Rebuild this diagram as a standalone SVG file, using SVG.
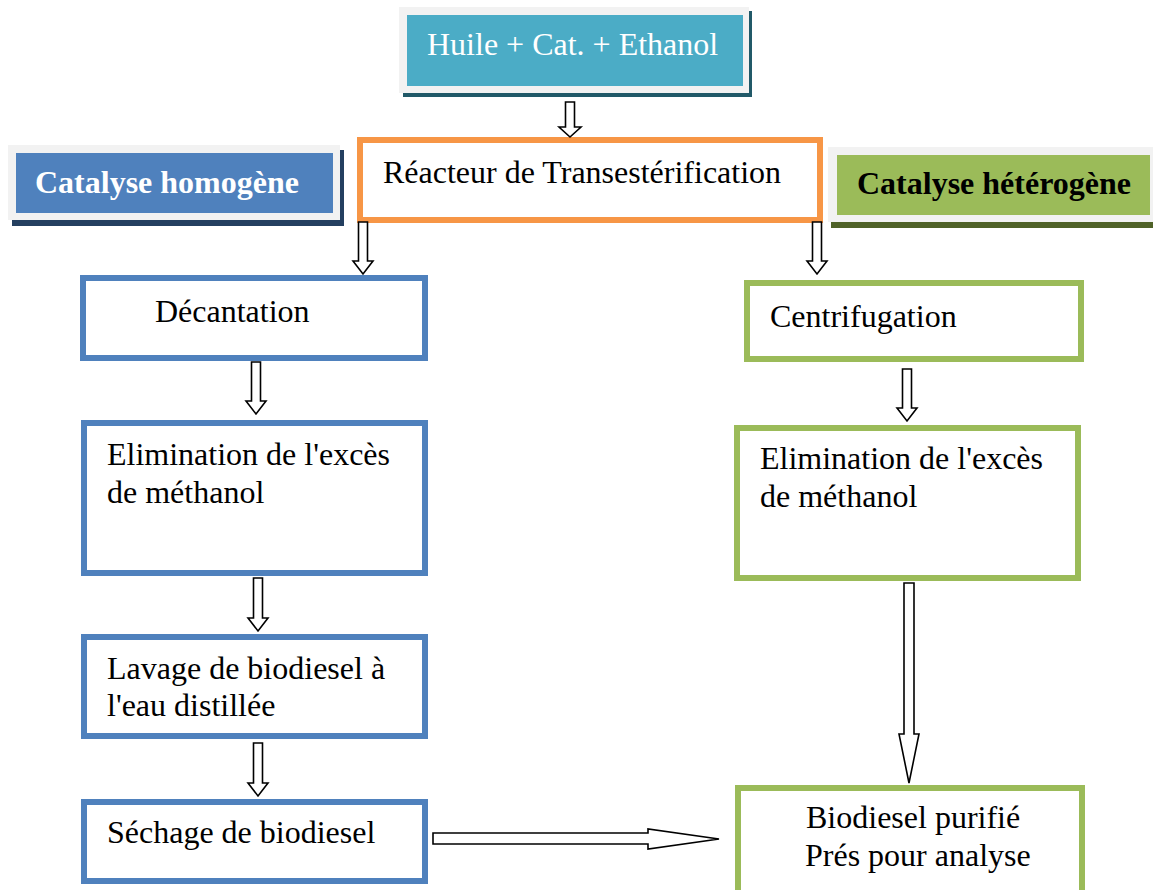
<svg xmlns="http://www.w3.org/2000/svg" width="1153" height="890" viewBox="0 0 1153 890">
<style>
text{font-family:"Liberation Serif","Times New Roman",serif;font-size:32px;fill:#000}
.b{font-weight:bold}
.w{fill:#fff}
.frame{fill:#F2F2F2}
.nb{fill:#fff;stroke:#4F81BD;stroke-width:6}
.ng{fill:#fff;stroke:#9BBB59;stroke-width:6}
.no{fill:#fff;stroke:#F79646;stroke-width:6}
.ar{fill:#fff;stroke:#000;stroke-width:1.6;stroke-linejoin:miter}
</style>
<rect width="1153" height="890" fill="#fff"/>
<g id="input">
<rect x="403" y="11" width="349" height="86" fill="#215968"/>
<rect class="frame" x="399" y="7" width="350" height="86"/>
<rect x="407" y="15" width="336" height="71" fill="#4BACC6"/>
<text class="w" x="427" y="55">Huile + Cat. + Ethanol</text>
</g>
<g id="homogene">
<rect x="12" y="150" width="332" height="76" fill="#243F60"/>
<rect class="frame" x="8" y="145" width="332" height="75"/>
<rect x="16" y="153" width="317" height="60" fill="#4F81BD"/>
<text class="b w" x="35" y="193">Catalyse homogène</text>
</g>
<g id="heterogene">
<rect x="831" y="151" width="330" height="77" fill="#4F6228"/>
<rect class="frame" x="828" y="147" width="330" height="75"/>
<rect x="837" y="155" width="313" height="60" fill="#9BBB59"/>
<text class="b" x="857" y="194">Catalyse hétérogène</text>
</g>
<g id="reacteur">
<rect class="no" x="360" y="140" width="460" height="80"/>
<text x="383" y="183">Réacteur de Transestérification</text>
</g>
<g id="decantation">
<rect class="nb" x="83" y="278" width="342" height="80"/>
<text x="155" y="322">Décantation</text>
</g>
<g id="elim-homo">
<rect class="nb" x="84" y="423" width="341" height="150"/>
<text x="107" y="465">Elimination de l'excès</text>
<text x="107" y="503">de méthanol</text>
</g>
<g id="lavage">
<rect class="nb" x="84" y="637" width="341" height="99"/>
<text x="107" y="679">Lavage de biodiesel à</text>
<text x="107" y="716">l'eau distillée</text>
</g>
<g id="sechage">
<rect class="nb" x="84" y="802" width="341" height="79"/>
<text x="107" y="843">Séchage de biodiesel</text>
</g>
<g id="centrifugation">
<rect class="ng" x="747" y="283" width="334" height="76"/>
<text x="770" y="327">Centrifugation</text>
</g>
<g id="elim-hetero">
<rect class="ng" x="737" y="428" width="341" height="150"/>
<text x="760" y="469">Elimination de l'excès</text>
<text x="760" y="507">de méthanol</text>
</g>
<g id="biodiesel">
<rect class="ng" x="738" y="788" width="344" height="120"/>
<text x="806" y="828">Biodiesel purifié</text>
<text x="805" y="866">Prés pour analyse</text>
</g>
<g id="connectors">
<polygon class="ar" points="565.5,102 574.5,102 574.5,127 581,127 570,137 559,127 565.5,127"/>
<polygon class="ar" points="358.5,222 367.5,222 367.5,261 373,261 363,274 353,261 358.5,261"/>
<polygon class="ar" points="812.5,222 821.5,222 821.5,261 827,261 817,274 807,261 812.5,261"/>
<polygon class="ar" points="251.5,362 260.5,362 260.5,401 266,401 256,414 246,401 251.5,401"/>
<polygon class="ar" points="253.5,578 262.5,578 262.5,618 268,618 258,631 248,618 253.5,618"/>
<polygon class="ar" points="253.5,743 262.5,743 262.5,783 268,783 258,796 248,783 253.5,783"/>
<polygon class="ar" points="902.5,369 911.5,369 911.5,408 917,408 907,421 897,408 902.5,408"/>
<polygon class="ar" points="904,583 914,583 914,734 919,734 909,783 899,734 904,734"/>
<polygon class="ar" points="433,833 648,833 648,829 719,839 648,849 648,844 433,844"/>
</g>
</svg>
